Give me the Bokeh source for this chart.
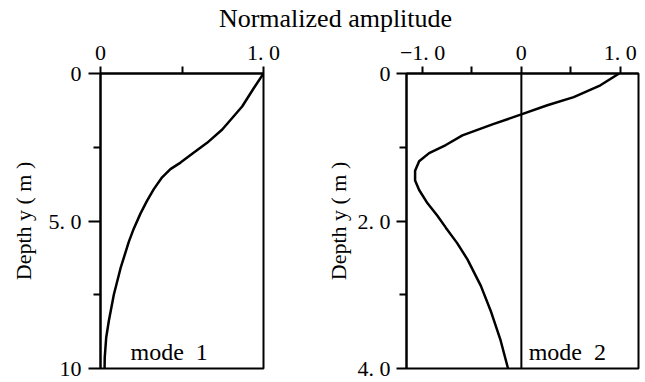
from bokeh.plotting import figure
from bokeh.layouts import column, row
from bokeh.models import Range1d, FixedTicker, Span, Label
from bokeh.embed import file_html
from bokeh.resources import INLINE

# Mode shapes: normalized amplitude versus depth
mode1_depth = [0.0, 0.5, 1.12, 1.90, 2.35, 2.68, 3.02, 3.24, 3.52, 3.92, 4.31, 4.75, 5.26, 5.70,
               6.60, 7.49, 8.39, 8.95, 9.62, 10.0]
mode1_amp = [1.0, 0.94, 0.869, 0.747, 0.654, 0.573, 0.491, 0.429, 0.378, 0.327, 0.286, 0.245, 0.204, 0.174,
             0.123, 0.082, 0.051, 0.035, 0.026, 0.025]

mode2_depth = [0.0, 0.16, 0.32, 0.43, 0.555, 0.69, 0.84, 0.97, 1.08, 1.19, 1.32, 1.45, 1.58, 1.76,
               1.93, 2.09, 2.30, 2.52, 2.88, 3.22, 3.62, 4.0]
mode2_amp = [0.99, 0.80, 0.53, 0.263, 0.0, -0.293, -0.597, -0.765, -0.934, -1.035, -1.076, -1.076, -1.035, -0.95,
             -0.85, -0.765, -0.65, -0.546, -0.41, -0.31, -0.21, -0.135]

# Tick positions and labels
p1_x_major = [0, 1]
p1_x_minor = [0.5]
p1_x_labels = {0: "0", 1: "1. 0"}
p1_y_major = [0, 5, 10]
p1_y_minor = [2.5, 7.5]
p1_y_labels = {0: "0", 5: "5. 0", 10: "10"}

p2_x_major = [-1, 0, 1]
p2_x_minor = [-0.5, 0.5]
p2_x_labels = {-1: "\u22121. 0", 0: "0", 1: "1. 0"}
p2_y_major = [0, 2, 4]
p2_y_minor = [1, 3]
p2_y_labels = {0: "0", 2: "2. 0", 4: "4. 0"}

FONT = "Liberation Serif"


def style(p, xmaj, xmin, xlab, ymaj, ymin, ylab, ytick_out, ystandoff, ylabel_standoff):
    p.grid.visible = False
    p.outline_line_color = "black"
    p.outline_line_width = 2
    p.background_fill_color = "white"
    p.border_fill_color = "white"

    xa = p.xaxis[0]
    xa.ticker = FixedTicker(ticks=xmaj, minor_ticks=xmin)
    xa.major_label_overrides = xlab
    xa.major_tick_out = 7
    xa.major_tick_in = 0
    xa.minor_tick_out = 7
    xa.minor_tick_in = 0
    xa.major_label_standoff = 2

    ya = p.yaxis[0]
    ya.ticker = FixedTicker(ticks=ymaj, minor_ticks=ymin)
    ya.major_label_overrides = ylab
    ya.major_tick_out = ytick_out
    ya.major_tick_in = 0
    ya.minor_tick_out = 7
    ya.minor_tick_in = 0
    ya.major_label_standoff = ystandoff
    ya.axis_label = "Depth y ( m )"
    ya.axis_label_standoff = ylabel_standoff
    ya.axis_label_text_font = FONT
    ya.axis_label_text_font_size = "22px"
    ya.axis_label_text_font_style = "normal"
    ya.axis_label_text_color = "black"

    for ax in (xa, ya):
        ax.axis_line_width = 2
        ax.major_tick_line_width = 2
        ax.minor_tick_line_width = 2
        ax.axis_line_color = "black"
        ax.major_tick_line_color = "black"
        ax.minor_tick_line_color = "black"
        ax.major_label_text_font = FONT
        ax.major_label_text_font_size = "22px"
        ax.major_label_text_color = "black"


# Left panel: mode 1
p1 = figure(width=300, height=346, x_range=Range1d(0, 1), y_range=Range1d(10, 0),
            x_axis_location="above", output_backend="svg", toolbar_location=None,
            min_border_left=100, min_border_right=37, min_border_top=34, min_border_bottom=14)
style(p1, p1_x_major, p1_x_minor, p1_x_labels, p1_y_major, p1_y_minor, p1_y_labels, 12, 7, 10)
p1.line(mode1_amp, mode1_depth, line_color="black", line_width=2.5)
p1.add_layout(Label(x=0.184, y=9.43, text="mode\u00a0\u00a01", text_font=FONT, text_font_size="24px",
                    text_baseline="middle", text_color="black"))

# Right panel: mode 2
p2 = figure(width=345, height=346, x_range=Range1d(-1.163, 1.186), y_range=Range1d(4, 0),
            x_axis_location="above", output_backend="svg", toolbar_location=None,
            min_border_left=106, min_border_right=7, min_border_top=35, min_border_bottom=6)
style(p2, p2_x_major, p2_x_minor, p2_x_labels, p2_y_major, p2_y_minor, p2_y_labels, 10, 6, 4)
p2.add_layout(Span(location=0, dimension="height", line_color="black", line_width=2))
p2.line(mode2_amp, mode2_depth, line_color="black", line_width=2.5)
p2.add_layout(Label(x=0.074, y=3.77, text="mode\u00a0\u00a02", text_font=FONT, text_font_size="24px",
                    text_baseline="middle", text_color="black"))

# Shared heading above both panels
head = figure(width=645, height=36, output_backend="svg", toolbar_location=None,
              x_axis_location=None, y_axis_location=None, min_border=0,
              x_range=Range1d(0, 645), y_range=Range1d(0, 36))
head.grid.visible = False
head.outline_line_color = None
head.add_layout(Label(x=335, y=18, text="Normalized amplitude",
                      text_font=FONT, text_font_size="26px", text_align="center",
                      text_baseline="middle", text_color="black"))

layout = column(head, row(p1, p2))

with open("out.html", "w") as f:
    f.write(file_html(layout, INLINE))
